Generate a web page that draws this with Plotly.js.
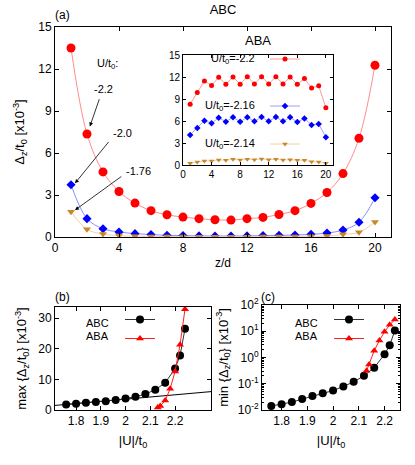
<!DOCTYPE html>
<html>
<head>
<meta charset="utf-8">
<script src="https://cdn.plot.ly/plotly-3.0.1.min.js"></script>
<style>
  html, body { margin: 0; padding: 0; background: #fff; }
  #chart { width: 415px; height: 465px; }
</style>
</head>
<body>
<div id="chart"></div>
<script>
// --- datos ---
const zSites = [1, 2, 3, 4, 5, 6, 7, 8, 9, 10, 11, 12, 13, 14, 15, 16, 17, 18, 19, 20];

// panel (a): ABC, perfiles de la brecha para cada U/t0
const abcU22 = [13.5, 7.36, 4.65, 3.25, 2.42, 1.88, 1.59, 1.42, 1.31, 1.23, 1.21, 1.31, 1.40, 1.61, 1.88, 2.40, 3.18, 4.53, 7.05, 12.27];
const abcU20 = [3.73, 1.31, 0.59, 0.36, 0.24, 0.17, 0.12, 0.10, 0.08, 0.07, 0.07, 0.08, 0.10, 0.12, 0.14, 0.19, 0.28, 0.50, 1.05, 2.80];
const abcU176 = [1.80, 0.55, 0.21, 0.10, 0.06, 0.04, 0.03, 0.03, 0.02, 0.02, 0.02, 0.02, 0.03, 0.03, 0.04, 0.05, 0.07, 0.19, 0.34, 1.07];

// recuadro: ABA
const abaU22 = [8.3, 9.9, 11.45, 10.85, 11.95, 11.0, 12.0, 11.0, 12.05, 11.05, 12.05, 11.05, 12.05, 11.05, 12.0, 11.0, 11.8, 10.5, 10.8, 7.8];
const abaU216 = [4.1, 5.05, 6.05, 5.7, 6.45, 5.9, 6.5, 5.9, 6.5, 5.95, 6.55, 5.95, 6.55, 5.95, 6.5, 5.85, 6.35, 5.45, 5.6, 3.8];
const abaU214 = [0.23, 0.41, 0.55, 0.55, 0.69, 0.64, 0.78, 0.69, 0.78, 0.73, 0.83, 0.73, 0.78, 0.69, 0.73, 0.64, 0.64, 0.46, 0.41, 0.23];

// paneles (b) y (c)
const uAbc = [1.76, 1.80, 1.84, 1.88, 1.92, 1.96, 2.00, 2.04, 2.08, 2.12, 2.16, 2.20, 2.22, 2.24];
const maxAbc = [1.8, 2.06, 2.38, 2.6, 2.82, 3.25, 3.73, 4.33, 5.2, 6.6, 8.88, 13.5, 17.77, 26.5];
const minAbc = [0.0142, 0.0164, 0.020, 0.026, 0.034, 0.043, 0.055, 0.079, 0.118, 0.20, 0.41, 1.32, 2.9, 10.7];
const uAba = [2.13, 2.14, 2.16, 2.18, 2.20, 2.22, 2.24];
const maxAba = [0.8, 1.3, 3.1, 6.9, 12.6, 21.3, 32.9];
const minAba = [0.31, 0.54, 1.82, 4.47, 9.5, 17.5, 27.9];
const fitU = [1.715, 2.345];
const fitMax = [1.5, 6.0];

const FONT = 'Liberation Sans, Arial, sans-serif';

function ejes(extra) {
  return Object.assign({
    showline: true, mirror: 'ticks', linecolor: '#000', linewidth: 1,
    ticks: 'inside', ticklen: 4, tickcolor: '#000', tickwidth: 1,
    showgrid: false, zeroline: false,
    tickfont: { family: FONT, size: 12, color: '#000' }
  }, extra);
}

function serie(x, y, xa, ya, color, lineColor, symbol, size, smooth, legend) {
  return {
    x: x, y: y, xaxis: xa, yaxis: ya,
    mode: 'lines+markers',
    line: { color: lineColor, width: 1, shape: smooth ? 'spline' : 'linear' },
    marker: { color: color, symbol: symbol, size: size, line: { width: 0 } },
    showlegend: !!legend,
    legend: legend || 'legend',
    name: ' ',
    hoverinfo: 'x+y'
  };
}

const traces = [
  serie(zSites, abcU22, 'x', 'y', '#ff0000', '#ff8c8c', 'circle', 9, true),
  serie(zSites, abcU20, 'x', 'y', '#0000ff', '#8c8cff', 'diamond', 7, true),
  serie(zSites, abcU176, 'x', 'y', '#c8882a', '#f0d2a8', 'triangle-down', 7, true),

  serie(zSites, abaU22, 'x2', 'y2', '#ff0000', '#ff9a9a', 'circle', 5, false, 'legend'),
  serie(zSites, abaU216, 'x2', 'y2', '#0000ff', '#a0a0ff', 'diamond', 5, false, 'legend2'),
  serie(zSites, abaU214, 'x2', 'y2', '#c8882a', '#f0d2a8', 'triangle-down', 5, false, 'legend3'),

  { x: fitU, y: fitMax, xaxis: 'x3', yaxis: 'y3', mode: 'lines', line: { color: '#000', width: 1 }, showlegend: false, hoverinfo: 'skip' },
  serie(uAbc, maxAbc, 'x3', 'y3', '#000', '#333', 'circle', 8, false, 'legend4'),
  serie(uAba, maxAba, 'x3', 'y3', '#ff0000', '#ff2020', 'triangle-up', 7, false, 'legend4'),

  serie(uAbc, minAbc, 'x4', 'y4', '#000', '#333', 'circle', 8, false, 'legend5'),
  serie(uAba, minAba, 'x4', 'y4', '#ff0000', '#ff2020', 'triangle-up', 7, false, 'legend5')
];

const W = 415, H = 465;
const px = v => v / W;
const py = v => 1 - v / H;

function leyenda(x, y) {
  return {
    x: px(x), y: py(y), xanchor: 'left', yanchor: 'middle',
    bgcolor: 'rgba(0,0,0,0)', borderwidth: 0,
    font: { family: FONT, size: 11, color: '#000' },
    itemsizing: 'trace', tracegroupgap: 2
  };
}

const legLabels = [
  ['U/t<sub>0</sub>=-2.2', 257, 59],
  ['U/t<sub>0</sub>=-2.16', 257, 106],
  ['U/t<sub>0</sub>=-2.14', 257, 144],
  ['ABC', 111, 323],
  ['ABA', 111, 336],
  ['ABC', 320, 323],
  ['ABA', 320, 336]
];

const annotations = legLabels.map(l => ({
  text: l[0], xref: 'paper', yref: 'paper', x: px(l[1]), y: py(l[2]),
  xanchor: 'right', yanchor: 'middle', showarrow: false,
  font: { family: FONT, size: 11, color: '#000' }
}));

const etiquetas = [
  ['(a)', 62, 15, 12], ['ABA', 258, 40, 13], ['(b)', 62, 297, 12], ['(c)', 268, 297, 12]
];
etiquetas.forEach(e => annotations.push({
  text: e[0], xref: 'paper', yref: 'paper', x: px(e[1]), y: py(e[2]),
  xanchor: 'center', yanchor: 'middle', showarrow: false,
  font: { family: FONT, size: e[3], color: '#000' }
}));

// textos y flechas del panel (a)
const textosA = [
  ['U/t<sub>0</sub>:', 3.25, 12.35], ['-2.2', 3.0, 10.6], ['-2.0', 4.2, 7.4], ['-1.76', 5.2, 4.75]
];
textosA.forEach(t => annotations.push({
  text: t[0], xref: 'x', yref: 'y', x: t[1], y: t[2], showarrow: false,
  font: { family: FONT, size: 11, color: '#000' }
}));
const flechas = [
  [2.18, 7.9, 2.8, 9.95], [1.25, 3.84, 3.43, 6.9], [1.25, 1.92, 4.24, 4.4]
];
flechas.forEach(f => annotations.push({
  text: '', xref: 'x', yref: 'y', x: f[0], y: f[1], axref: 'x', ayref: 'y', ax: f[2], ay: f[3],
  showarrow: true, arrowhead: 2, arrowsize: 1, arrowwidth: 0.8, arrowcolor: '#000'
}));

const layout = {
  width: W, height: H,
  margin: { l: 0, r: 0, t: 0, b: 0 },
  paper_bgcolor: '#fff', plot_bgcolor: 'rgba(0,0,0,0)',
  font: { family: FONT, color: '#000' },
  title: { text: 'ABC', x: px(223), y: py(9), xanchor: 'center', yanchor: 'middle', font: { family: FONT, size: 13 } },
  xaxis: ejes({ domain: [px(55), px(391)], anchor: 'y', range: [0, 21], tick0: 0, dtick: 4,
    title: { text: 'z/d', standoff: 4, font: { family: FONT, size: 12 } } }),
  yaxis: ejes({ domain: [py(237), py(27)], anchor: 'x', range: [0, 15], tick0: 0, dtick: 3,
    title: { text: 'Δ<sub>z</sub>/t<sub>0</sub> [x10<sup>-3</sup>]', standoff: 10, font: { family: FONT, size: 13 } } }),
  xaxis2: ejes({ domain: [px(183), px(333)], anchor: 'y2', range: [0, 21], tick0: 0, dtick: 4, ticklen: 3,
    tickfont: { family: FONT, size: 10, color: '#000' } }),
  yaxis2: ejes({ domain: [py(165), py(55)], anchor: 'x2', range: [0, 15], tick0: 0, dtick: 3, ticklen: 3,
    tickfont: { family: FONT, size: 10, color: '#000' } }),
  xaxis3: ejes({ domain: [px(55), px(211)], anchor: 'y3', range: [1.715, 2.345],
    tickvals: [1.8, 1.9, 2.0, 2.1, 2.2],
    title: { text: '|U|/t<sub>0</sub>', standoff: 8, font: { family: FONT, size: 13 } } }),
  yaxis3: ejes({ domain: [py(410), py(307)], anchor: 'x3', range: [0, 33.6], tick0: 0, dtick: 10,
    title: { text: 'max {Δ<sub>z</sub>/t<sub>0</sub>} [x10<sup>-3</sup>]', standoff: 8, font: { family: FONT, size: 13 } } }),
  xaxis4: ejes({ domain: [px(262), px(400)], anchor: 'y4', range: [1.724, 2.26],
    tickvals: [1.8, 1.9, 2.0, 2.1, 2.2],
    title: { text: '|U|/t<sub>0</sub>', standoff: 8, font: { family: FONT, size: 13 } } }),
  yaxis4: ejes({ domain: [py(410), py(305)], anchor: 'x4', type: 'log', range: [-2, 2],
    tickvals: [0.01, 0.1, 1, 10, 100],
    ticktext: ['10<sup>-2</sup>', '10<sup>-1</sup>', '10<sup>0</sup>', '10<sup>1</sup>', '10<sup>2</sup>'],
    minor: { ticks: 'inside', ticklen: 2, tickcolor: '#000', dtick: 'D1' },
    title: { text: 'min {Δ<sub>z</sub>/t<sub>0</sub>} [x10<sup>-3</sup>]', standoff: 6, font: { family: FONT, size: 13 } } }),
  legend: leyenda(265, 59),
  legend2: leyenda(265, 106),
  legend3: leyenda(265, 144),
  legend4: leyenda(120, 329),
  legend5: leyenda(329, 329),
  annotations: annotations
};

Plotly.newPlot('chart', traces, layout, { staticPlot: true, displayModeBar: false });
</script>
</body>
</html>
